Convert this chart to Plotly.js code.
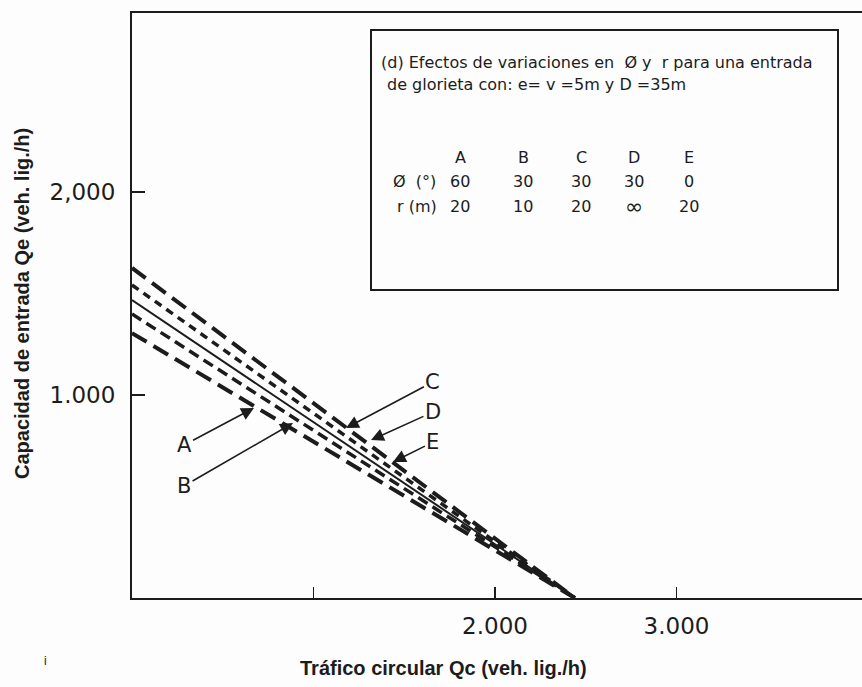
<!DOCTYPE html>
<html>
<head>
<meta charset="utf-8">
<script src="https://cdn.plot.ly/plotly-3.0.1.min.js"></script>
<style>html,body{margin:0;padding:0;background:#fdfdfd;}#chart{width:862px;height:687px;}</style>
</head>
<body>
<div id="chart"></div>
<script>
// Series: entry capacity Qe vs circulating flow Qc (veh. lig./h)
const seriesNames = ['A', 'B', 'C', 'D', 'E'];
const qcA = [0, 2440];  const qeA = [1305, 0];
const qcB = [0, 2440];  const qeB = [1399, 0];
const qcC = [0, 2440];  const qeC = [1468, 0];
const qcD = [0, 2440];  const qeD = [1542, 0];
const qcE = [0, 2440];  const qeE = [1626, 0];

// Arrow heads (points on the lines) and label centres
const arrowHeadQc = [672, 887, 1179, 1317, 1438];
const arrowHeadQe = [936, 862, 837, 778, 670];
const labelQc = [287, 287, 1658, 1658, 1658];
const labelQe = [754, 552, 1064, 916, 768];

// Axis ticks
const xTickVals = [1000, 2000, 3000];
const xTickText = ['', '2.000', '3.000'];
const yTickVals = [1000, 2000];
const yTickText = ['1.000', '2,000'];

// Inset table
const tableCols = ['A', 'B', 'C', 'D', 'E'];
const phiVals = ['60', '30', '30', '30', '0'];
const rVals = ['20', '10', '20', '∞', '20'];

const ink = '#1c1c1c';
const styles = {
  A: {width: 4, dash: '17px,8px'},
  B: {width: 3.5, dash: '11px,6px'},
  C: {width: 2, dash: 'solid'},
  D: {width: 3.5, dash: '8px,6px'},
  E: {width: 4, dash: '17px,8px'}
};
const xs = [qcA, qcB, qcC, qcD, qcE];
const ys = [qeA, qeB, qeC, qeD, qeE];
const traces = seriesNames.map((n, i) => ({
  type: 'scatter', mode: 'lines', name: n, x: xs[i], y: ys[i],
  line: {color: ink, width: styles[n].width, dash: styles[n].dash},
  hoverinfo: 'skip'
}));

const annotations = [];
seriesNames.forEach((n, i) => {
  annotations.push({
    x: arrowHeadQc[i], y: arrowHeadQe[i], xref: 'x', yref: 'y',
    ax: labelQc[i], ay: labelQe[i], axref: 'x', ayref: 'y',
    text: n, showarrow: true, arrowhead: 2, arrowsize: 1.6, arrowwidth: 1.6,
    arrowcolor: ink, font: {family: 'DejaVu Sans', size: 21, color: ink}
  });
});

// Inset box text (paper coordinates)
const boxFont = {family: 'DejaVu Sans', size: 16, color: ink};
const px2x = p => (p - 132) / 730;
const px2y = p => (598 - p) / 585;
annotations.push({xref: 'paper', yref: 'paper', x: px2x(379), y: px2y(62), xanchor: 'left', yanchor: 'middle',
  text: '(d) Efectos de variaciones en  Ø y  r para una entrada', showarrow: false, font: boxFont});
annotations.push({xref: 'paper', yref: 'paper', x: px2x(385), y: px2y(84), xanchor: 'left', yanchor: 'middle',
  text: 'de glorieta con: e= v =5m y D =35m', showarrow: false, font: boxFont});
const colX = [460, 523, 581, 634, 689];
tableCols.forEach((c, i) => {
  annotations.push({xref: 'paper', yref: 'paper', x: px2x(colX[i]), y: px2y(157), xanchor: 'center', yanchor: 'middle',
    text: c, showarrow: false, font: boxFont});
  annotations.push({xref: 'paper', yref: 'paper', x: px2x(colX[i]), y: px2y(181), xanchor: 'center', yanchor: 'middle',
    text: phiVals[i], showarrow: false, font: boxFont});
  annotations.push({xref: 'paper', yref: 'paper', x: px2x(colX[i]), y: px2y(206), xanchor: 'center', yanchor: 'middle',
    text: rVals[i], showarrow: false, font: i === 3 ? {family: 'DejaVu Sans', size: 22, color: ink} : boxFont});
});
annotations.push({xref: 'paper', yref: 'paper', x: px2x(391), y: px2y(181), xanchor: 'left', yanchor: 'middle',
  text: 'Ø  (°)', showarrow: false, font: boxFont});
annotations.push({xref: 'paper', yref: 'paper', x: px2x(395), y: px2y(206), xanchor: 'left', yanchor: 'middle',
  text: 'r (m)', showarrow: false, font: boxFont});
annotations.push({xref: 'paper', yref: 'paper', x: px2x(45), y: px2y(661), xanchor: 'center', yanchor: 'middle',
  text: 'i', showarrow: false, font: {family: 'Liberation Sans', size: 12, color: ink}});

// Axis titles placed as annotations
annotations.push({xref: 'paper', yref: 'paper', x: px2x(443), y: px2y(668), xanchor: 'center', yanchor: 'middle',
  text: '<b>Tráfico circular Qc (veh. lig./h)</b>', showarrow: false,
  font: {family: 'Liberation Sans', size: 20, color: ink}});
annotations.push({xref: 'paper', yref: 'paper', x: px2x(22), y: px2y(304), xanchor: 'center', yanchor: 'middle',
  text: '<b>Capacidad de entrada Qe (veh. lig./h)</b>', showarrow: false, textangle: -90,
  font: {family: 'Liberation Sans', size: 20, color: ink}});

const layout = {
  width: 862, height: 687,
  margin: {l: 132, r: 0, t: 13, b: 89, pad: 0},
  paper_bgcolor: '#fdfdfd', plot_bgcolor: '#fdfdfd',
  showlegend: false,
  xaxis: {
    range: [0, 4022], showgrid: false, zeroline: false,
    showline: true, linecolor: ink, linewidth: 2, mirror: true,
    ticks: 'inside', ticklen: 11, tickwidth: 1.5, tickcolor: ink,
    tickvals: xTickVals, ticktext: xTickText,
    tickfont: {family: 'DejaVu Sans', size: 23, color: ink},
    ticklabelstandoff: 6
  },
  yaxis: {
    range: [0, 2882], showgrid: false, zeroline: false,
    showline: true, linecolor: ink, linewidth: 2,
    ticks: 'inside', ticklen: 13, tickwidth: 1.5, tickcolor: ink,
    tickvals: yTickVals, ticktext: yTickText,
    tickfont: {family: 'DejaVu Sans', size: 23, color: ink},
    ticklabelstandoff: 10
  },
  shapes: [{
    type: 'rect', xref: 'paper', yref: 'paper',
    x0: px2x(371), x1: px2x(838), y0: px2y(290), y1: px2y(30),
    line: {color: ink, width: 2}, fillcolor: 'rgba(0,0,0,0)'
  }],
  annotations: annotations
};

Plotly.newPlot('chart', traces, layout, {displayModeBar: false, staticPlot: true});
</script>
</body>
</html>
